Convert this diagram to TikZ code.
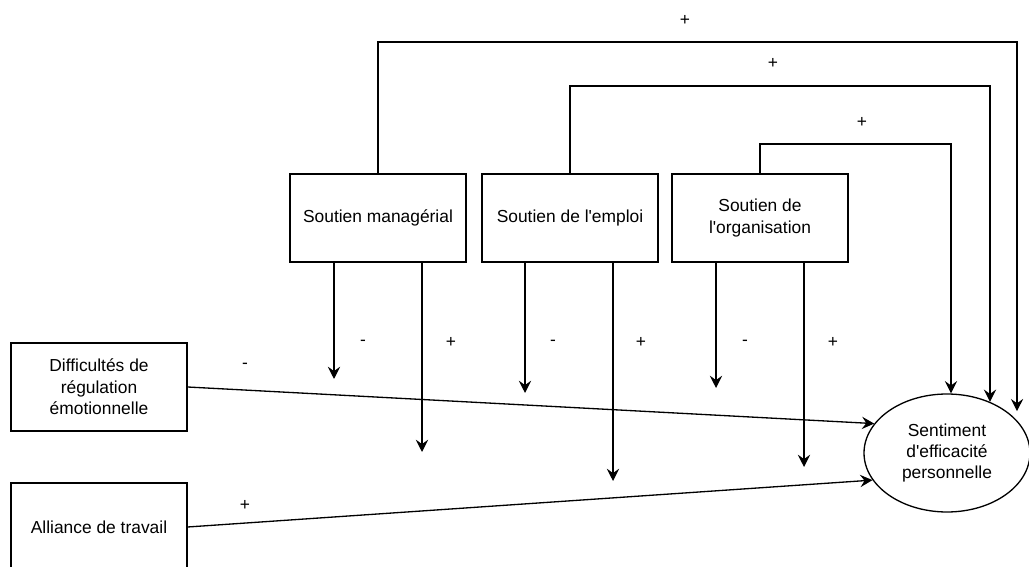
\documentclass[tikz,border=0pt]{standalone}
\usepackage{fontspec}
\setmainfont{Liberation Sans}
\usepackage{tikz}
\usetikzlibrary{arrows.meta,shapes.geometric}

\begin{document}
\begin{tikzpicture}[x=0.02cm,y=-0.02cm,line width=0.75pt,
  every node/.style={font=\fontsize{9.9}{12.2}\selectfont},
  box/.style={draw,minimum width=3.52cm,minimum height=1.76cm,align=center,inner sep=2pt},
  oval/.style={draw,ellipse,minimum width=3.32cm,minimum height=2.36cm,align=center,inner sep=0pt},
  sign/.style={inner sep=1pt},
  arr/.style={-{Stealth[length=7pt,width=7pt,inset=2.5pt]}}]
\useasboundingbox (0,0) rectangle (1029,567);
\node[box] (mgr) at (378,218) {Soutien managérial};
\node[box] (emp) at (570,218) {Soutien de l\textquotesingle emploi};
\node[box] (org) at (760,218) {Soutien de\\l\textquotesingle organisation};
\node[box] (dif) at (99,387) {Difficultés de\\régulation\\émotionnelle};
\node[box] (all) at (99,527) {Alliance de travail};
\node[oval] (sent) at (947,453) {Sentiment\\d\textquotesingle efficacité\\personnelle};
\coordinate (p1) at (1017,42);
\coordinate (p2) at (990,86);
\coordinate (p3) at (951,144);
\draw[arr] (mgr.north) |- (p1) -- (p1 |- sent.35);
\draw[arr] (emp.north) |- (p2) -- (p2 |- sent.50);
\draw[arr] (org.north) |- (p3) -- (p3 |- sent.north);
\coordinate (m1) at (334,379);
\coordinate (m2) at (422,452);
\coordinate (e1) at (525,393);
\coordinate (e2) at (613,481);
\coordinate (o1) at (716,388);
\coordinate (o2) at (804,467);
\draw[arr] (mgr.south -| m1) -- (m1);
\draw[arr] (mgr.south -| m2) -- (m2);
\draw[arr] (emp.south -| e1) -- (e1);
\draw[arr] (emp.south -| e2) -- (e2);
\draw[arr] (org.south -| o1) -- (o1);
\draw[arr] (org.south -| o2) -- (o2);
\draw[arr] (dif.east) -- (sent.158);
\draw[arr] (all.east) -- (sent.200);
\node[sign] (s1) at (685,20) {+};
\node[sign] (s2) at (773,63) {+};
\node[sign] (s3) at (862,122) {+};
\node[sign] (s4) at (363,343) {-};
\node[sign] (s5) at (451,342) {+};
\node[sign] (s6) at (553,343) {-};
\node[sign] (s7) at (641,342) {+};
\node[sign] (s8) at (745,343) {-};
\node[sign] (s9) at (833,342) {+};
\node[sign] (s10) at (245,366) {-};
\node[sign] (s11) at (245,505) {+};
\end{tikzpicture}
\end{document}
